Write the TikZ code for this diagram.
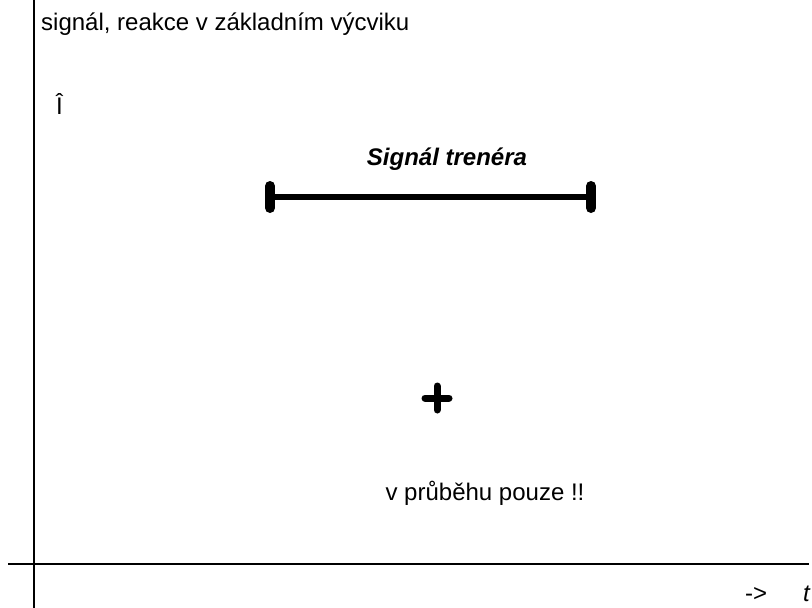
\documentclass[tikz,border=0pt]{standalone}
\usepackage{fontspec}
\setmainfont{Liberation Sans}
\begin{document}
\begin{tikzpicture}[x=1pt,y=-1pt,
  lbl/.style={inner sep=0pt,font=\fontsize{24}{28}\selectfont},
  axis/.style={line width=2pt},
  bar/.style={line width=6pt},
  capbar/.style={line width=10pt,line cap=round}]
\useasboundingbox (0,0) rectangle (812,608);
\coordinate (ytop) at (34,0);
\coordinate (ybot) at (34,608);
\coordinate (xl) at (8,564);
\coordinate (xr) at (809,564);
\draw[axis] (ytop) -- (ybot);
\draw[axis] (xl) -- (xr);
\node[lbl,anchor=base west] (title) at (41,30) {signál, reakce v základním výcviku};
\node[lbl,anchor=base west] (up) at (56,114) {Î};
\node[lbl,anchor=base,font=\fontsize{24}{28}\selectfont\bfseries\itshape] (sig) at (447,165) {Signál trenéra};
\coordinate (bl) at (270,197);
\coordinate (br) at (591,197);
\draw[bar] (bl) -- (br);
\draw[capbar] (270,186) -- (270,208);
\draw[capbar] (591,186) -- (591,208);
\coordinate (pc) at (437,398);
\draw[line width=7pt,line cap=round] (425,398) -- (449,398);
\draw[line width=7pt,line cap=round] (437,386) -- (437,410);
\node[lbl,anchor=base] (note) at (485,500) {v průběhu pouze !!};
\node[lbl,anchor=base west] (arr) at (745,601) {->};
\node[lbl,anchor=base west,font=\fontsize{24}{28}\selectfont\itshape] (t) at (803,601) {t};
\end{tikzpicture}
\end{document}
